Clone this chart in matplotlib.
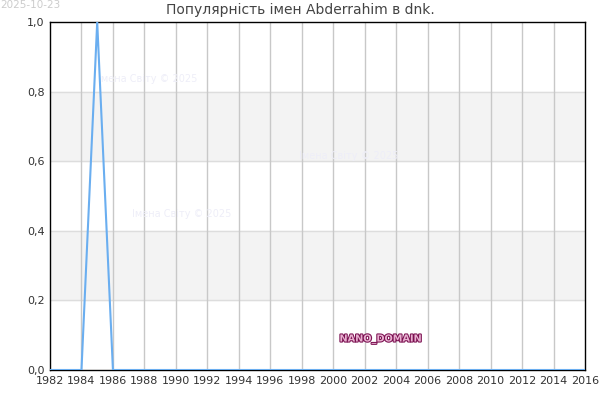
import numpy as np
import matplotlib.pyplot as plt
import matplotlib.patheffects as pe

# data
years = list(range(1982, 2017))
values = [0.0] * len(years)
values[years.index(1985)] = 1.0
xticks = list(range(1982, 2017, 2))
yticks = [0.0, 0.2, 0.4, 0.6, 0.8, 1.0]
ylabels = ['0,0', '0,2', '0,4', '0,6', '0,8', '1,0']
title = 'Популярність імен Abderrahim в dnk.'

fig = plt.figure(figsize=(6, 4), dpi=100)
ax = fig.add_axes([50/600, 30/400, 535/600, 348/400])

# grey bands
for lo, hi in [(0.2, 0.4), (0.6, 0.8)]:
    ax.axhspan(lo, hi, color='#f3f3f3', zorder=0)
for y in yticks[1:-1]:
    ax.axhline(y, color='#dddddd', lw=1, zorder=1)
for x in xticks[1:-1]:
    ax.axvline(x, color='#c8c8c8', lw=1, zorder=1)

ax.plot(years, values, color='#6aaef0', lw=1.5, zorder=3)

ax.set_xlim(1982, 2016)
ax.set_ylim(0, 1)
ax.set_xticks(xticks)
ax.set_yticks(yticks)
ax.set_yticklabels(ylabels)
ax.tick_params(labelsize=8, colors='#333333', length=0, pad=4)
for s in ax.spines.values():
    s.set_color('black')
    s.set_linewidth(1)

fig.text(0.5, 0.975, title, ha='center', va='center', fontsize=10, color='#444444')
fig.text(0.0, 1.0, '2025-10-23', ha='left', va='top', fontsize=7.5, color='#cccccc')

wm = 'Імена Світу © 2025'
for x, y in [(1988.2, 0.835), (2001.0, 0.615), (1990.4, 0.448)]:
    ax.text(x, y, wm, ha='center', va='center', fontsize=7, color='#eeeef8', zorder=2)

ax.text(2003.0, 0.09, 'NANO_DOMAIN', ha='center', va='center', fontsize=7,
        color='#e8b0d0', fontweight='bold', zorder=4,
        path_effects=[pe.withStroke(linewidth=1.5, foreground='#7a1050')])

fig.savefig('out.png', dpi=100)
